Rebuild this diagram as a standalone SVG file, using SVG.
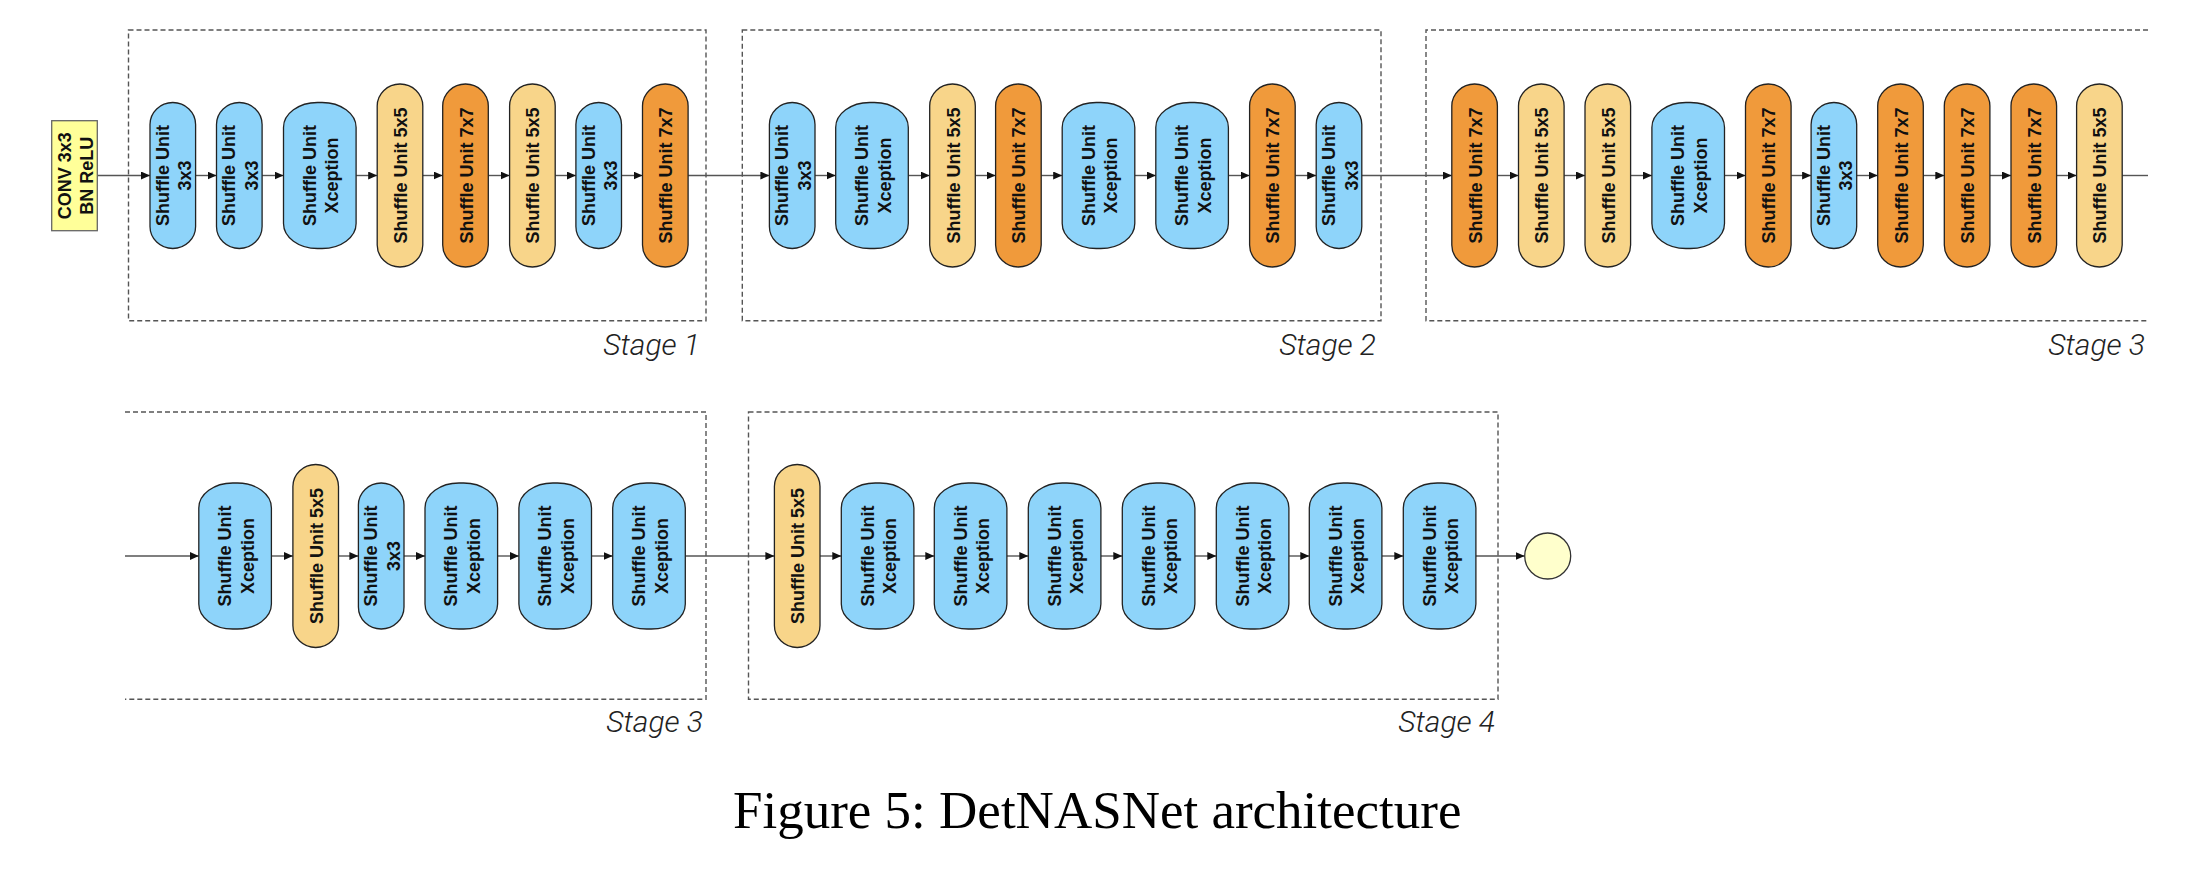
<svg xmlns="http://www.w3.org/2000/svg" width="2188" height="896" viewBox="0 0 2188 896">
<style>
.bg{fill:#ffffff}
.stage{fill:none;stroke:#555;stroke-width:1.4;stroke-dasharray:5 3}
.u{stroke:#222;stroke-width:1.3}
.b{fill:#8ed4fa}
.t{fill:#f8d58a}
.o{fill:#f09a3b}
.lbl{font-family:"Liberation Sans",Arial,sans-serif;font-weight:bold;font-size:18px;fill:#111;text-anchor:middle}
.stg{font-family:Roboto,"Open Sans","Liberation Sans",sans-serif;font-weight:300;font-style:italic;font-size:30px;fill:#222;text-anchor:end}
.cap{font-family:"Liberation Serif","Times New Roman",serif;font-size:53px;fill:#000}
.c{stroke:#555;stroke-width:1.4;fill:none}
</style>
<defs>
<marker id="ah" markerUnits="userSpaceOnUse" markerWidth="10" markerHeight="8" refX="9" refY="4" orient="auto">
<path d="M0,0 L9,4 L0,8 z" fill="#111"/>
</marker>
</defs>
<rect class="bg" x="0" y="0" width="2188" height="896"/>

<g id="stages">
<rect id="stage1" class="stage" x="128.5" y="30" width="577.5" height="290.7"/>
<rect id="stage2" class="stage" x="742.3" y="30" width="638.7" height="290.7"/>
<path id="stage3a" class="stage" d="M2148,30 H1426 V320.7 H2148"/>
<path id="stage3b" class="stage" d="M125,412 H706 V699.3 H125"/>
<rect id="stage4" class="stage" x="748.5" y="412" width="749.5" height="287.3"/>
<text class="stg" x="700" y="355">Stage 1</text>
<text class="stg" x="1376" y="355">Stage 2</text>
<text class="stg" x="2145" y="355">Stage 3</text>
<text class="stg" x="703" y="732">Stage 3</text>
<text class="stg" x="1495" y="732">Stage 4</text>
</g>

<g id="connectors">
<g marker-end="url(#ah)">
<line class="c" x1="97.3" y1="175.5" x2="150" y2="175.5"/>
<line class="c" x1="195.6" y1="175.5" x2="216.5" y2="175.5"/>
<line class="c" x1="262.1" y1="175.5" x2="283.5" y2="175.5"/>
<line class="c" x1="356.1" y1="175.5" x2="377.2" y2="175.5"/>
<line class="c" x1="422.8" y1="175.5" x2="442.7" y2="175.5"/>
<line class="c" x1="488.3" y1="175.5" x2="509.6" y2="175.5"/>
<line class="c" x1="555.2" y1="175.5" x2="575.9" y2="175.5"/>
<line class="c" x1="621.5" y1="175.5" x2="642.5" y2="175.5"/>
<line class="c" x1="688.1" y1="175.5" x2="769.4" y2="175.5"/>
<line class="c" x1="815" y1="175.5" x2="835.7" y2="175.5"/>
<line class="c" x1="908.3" y1="175.5" x2="929.7" y2="175.5"/>
<line class="c" x1="975.3" y1="175.5" x2="995.6" y2="175.5"/>
<line class="c" x1="1041.2" y1="175.5" x2="1062.2" y2="175.5"/>
<line class="c" x1="1134.8" y1="175.5" x2="1155.8" y2="175.5"/>
<line class="c" x1="1228.4" y1="175.5" x2="1249.6" y2="175.5"/>
<line class="c" x1="1295.2" y1="175.5" x2="1316.2" y2="175.5"/>
<line class="c" x1="1361.8" y1="175.5" x2="1451.8" y2="175.5"/>
<line class="c" x1="1497.4" y1="175.5" x2="1518.5" y2="175.5"/>
<line class="c" x1="1564.1" y1="175.5" x2="1585" y2="175.5"/>
<line class="c" x1="1630.6" y1="175.5" x2="1651.9" y2="175.5"/>
<line class="c" x1="1724.5" y1="175.5" x2="1745.5" y2="175.5"/>
<line class="c" x1="1791.1" y1="175.5" x2="1811.1" y2="175.5"/>
<line class="c" x1="1856.7" y1="175.5" x2="1877.7" y2="175.5"/>
<line class="c" x1="1923.3" y1="175.5" x2="1944.3" y2="175.5"/>
<line class="c" x1="1989.9" y1="175.5" x2="2011" y2="175.5"/>
<line class="c" x1="2056.6" y1="175.5" x2="2076.6" y2="175.5"/>
<line class="c" x1="125" y1="556" x2="198.8" y2="556"/>
<line class="c" x1="271.4" y1="556" x2="292.9" y2="556"/>
<line class="c" x1="338.5" y1="556" x2="358.4" y2="556"/>
<line class="c" x1="404" y1="556" x2="425" y2="556"/>
<line class="c" x1="497.6" y1="556" x2="518.9" y2="556"/>
<line class="c" x1="591.5" y1="556" x2="612.7" y2="556"/>
<line class="c" x1="685.3" y1="556" x2="774.4" y2="556"/>
<line class="c" x1="820" y1="556" x2="841.3" y2="556"/>
<line class="c" x1="913.9" y1="556" x2="934.3" y2="556"/>
<line class="c" x1="1006.9" y1="556" x2="1028.3" y2="556"/>
<line class="c" x1="1100.9" y1="556" x2="1122.3" y2="556"/>
<line class="c" x1="1194.9" y1="556" x2="1216.3" y2="556"/>
<line class="c" x1="1288.9" y1="556" x2="1309.3" y2="556"/>
<line class="c" x1="1381.9" y1="556" x2="1403.3" y2="556"/>
<line class="c" x1="1475.9" y1="556" x2="1524.7" y2="556"/>
</g>
<line class="c" x1="2122.2" y1="175.5" x2="2148" y2="175.5"/>
</g>

<g id="conv">
<rect x="51.7" y="120.7" width="45.6" height="110" fill="#ffff99" stroke="#666" stroke-width="1.3"/>
<text class="lbl" transform="translate(74.5,175.7) rotate(-90)"><tspan x="0" y="-4">CONV 3x3</tspan><tspan x="0" y="18.5">BN ReLU</tspan></text>
</g>

<!-- Row 1, Stage 1 -->
<g id="s1u1"><rect class="u b" x="150" y="102.5" width="45.6" height="146" rx="22.8" ry="22"/><text class="lbl" transform="translate(172.8,175.5) rotate(-90)"><tspan x="0" y="-4">Shuffle Unit</tspan><tspan x="0" y="18.5">3x3</tspan></text></g>
<g id="s1u2"><rect class="u b" x="216.5" y="102.5" width="45.6" height="146" rx="22.8" ry="22"/><text class="lbl" transform="translate(239.3,175.5) rotate(-90)"><tspan x="0" y="-4">Shuffle Unit</tspan><tspan x="0" y="18.5">3x3</tspan></text></g>
<g id="s1u3"><rect class="u b" x="283.5" y="102.5" width="72.6" height="146" rx="34" ry="25"/><text class="lbl" transform="translate(319.8,175.5) rotate(-90)"><tspan x="0" y="-4">Shuffle Unit</tspan><tspan x="0" y="18.5">Xception</tspan></text></g>
<g id="s1u4"><rect class="u t" x="377.2" y="84" width="45.6" height="183" rx="22.8" ry="22"/><text class="lbl" transform="translate(400,175.5) rotate(-90)" y="7">Shuffle Unit 5x5</text></g>
<g id="s1u5"><rect class="u o" x="442.7" y="84" width="45.6" height="183" rx="22.8" ry="22"/><text class="lbl" transform="translate(465.5,175.5) rotate(-90)" y="7">Shuffle Unit 7x7</text></g>
<g id="s1u6"><rect class="u t" x="509.6" y="84" width="45.6" height="183" rx="22.8" ry="22"/><text class="lbl" transform="translate(532.4,175.5) rotate(-90)" y="7">Shuffle Unit 5x5</text></g>
<g id="s1u7"><rect class="u b" x="575.9" y="102.5" width="45.6" height="146" rx="22.8" ry="22"/><text class="lbl" transform="translate(598.7,175.5) rotate(-90)"><tspan x="0" y="-4">Shuffle Unit</tspan><tspan x="0" y="18.5">3x3</tspan></text></g>
<g id="s1u8"><rect class="u o" x="642.5" y="84" width="45.6" height="183" rx="22.8" ry="22"/><text class="lbl" transform="translate(665.3,175.5) rotate(-90)" y="7">Shuffle Unit 7x7</text></g>

<!-- Row 1, Stage 2 -->
<g id="s2u1"><rect class="u b" x="769.4" y="102.5" width="45.6" height="146" rx="22.8" ry="22"/><text class="lbl" transform="translate(792.2,175.5) rotate(-90)"><tspan x="0" y="-4">Shuffle Unit</tspan><tspan x="0" y="18.5">3x3</tspan></text></g>
<g id="s2u2"><rect class="u b" x="835.7" y="102.5" width="72.6" height="146" rx="34" ry="25"/><text class="lbl" transform="translate(872,175.5) rotate(-90)"><tspan x="0" y="-4">Shuffle Unit</tspan><tspan x="0" y="18.5">Xception</tspan></text></g>
<g id="s2u3"><rect class="u t" x="929.7" y="84" width="45.6" height="183" rx="22.8" ry="22"/><text class="lbl" transform="translate(952.5,175.5) rotate(-90)" y="7">Shuffle Unit 5x5</text></g>
<g id="s2u4"><rect class="u o" x="995.6" y="84" width="45.6" height="183" rx="22.8" ry="22"/><text class="lbl" transform="translate(1018.4,175.5) rotate(-90)" y="7">Shuffle Unit 7x7</text></g>
<g id="s2u5"><rect class="u b" x="1062.2" y="102.5" width="72.6" height="146" rx="34" ry="25"/><text class="lbl" transform="translate(1098.5,175.5) rotate(-90)"><tspan x="0" y="-4">Shuffle Unit</tspan><tspan x="0" y="18.5">Xception</tspan></text></g>
<g id="s2u6"><rect class="u b" x="1155.8" y="102.5" width="72.6" height="146" rx="34" ry="25"/><text class="lbl" transform="translate(1192.1,175.5) rotate(-90)"><tspan x="0" y="-4">Shuffle Unit</tspan><tspan x="0" y="18.5">Xception</tspan></text></g>
<g id="s2u7"><rect class="u o" x="1249.6" y="84" width="45.6" height="183" rx="22.8" ry="22"/><text class="lbl" transform="translate(1272.4,175.5) rotate(-90)" y="7">Shuffle Unit 7x7</text></g>
<g id="s2u8"><rect class="u b" x="1316.2" y="102.5" width="45.6" height="146" rx="22.8" ry="22"/><text class="lbl" transform="translate(1339,175.5) rotate(-90)"><tspan x="0" y="-4">Shuffle Unit</tspan><tspan x="0" y="18.5">3x3</tspan></text></g>

<!-- Row 1, Stage 3 -->
<g id="s3u1"><rect class="u o" x="1451.8" y="84" width="45.6" height="183" rx="22.8" ry="22"/><text class="lbl" transform="translate(1474.6,175.5) rotate(-90)" y="7">Shuffle Unit 7x7</text></g>
<g id="s3u2"><rect class="u t" x="1518.5" y="84" width="45.6" height="183" rx="22.8" ry="22"/><text class="lbl" transform="translate(1541.3,175.5) rotate(-90)" y="7">Shuffle Unit 5x5</text></g>
<g id="s3u3"><rect class="u t" x="1585" y="84" width="45.6" height="183" rx="22.8" ry="22"/><text class="lbl" transform="translate(1607.8,175.5) rotate(-90)" y="7">Shuffle Unit 5x5</text></g>
<g id="s3u4"><rect class="u b" x="1651.9" y="102.5" width="72.6" height="146" rx="34" ry="25"/><text class="lbl" transform="translate(1688.2,175.5) rotate(-90)"><tspan x="0" y="-4">Shuffle Unit</tspan><tspan x="0" y="18.5">Xception</tspan></text></g>
<g id="s3u5"><rect class="u o" x="1745.5" y="84" width="45.6" height="183" rx="22.8" ry="22"/><text class="lbl" transform="translate(1768.3,175.5) rotate(-90)" y="7">Shuffle Unit 7x7</text></g>
<g id="s3u6"><rect class="u b" x="1811.1" y="102.5" width="45.6" height="146" rx="22.8" ry="22"/><text class="lbl" transform="translate(1833.9,175.5) rotate(-90)"><tspan x="0" y="-4">Shuffle Unit</tspan><tspan x="0" y="18.5">3x3</tspan></text></g>
<g id="s3u7"><rect class="u o" x="1877.7" y="84" width="45.6" height="183" rx="22.8" ry="22"/><text class="lbl" transform="translate(1900.5,175.5) rotate(-90)" y="7">Shuffle Unit 7x7</text></g>
<g id="s3u8"><rect class="u o" x="1944.3" y="84" width="45.6" height="183" rx="22.8" ry="22"/><text class="lbl" transform="translate(1967.1,175.5) rotate(-90)" y="7">Shuffle Unit 7x7</text></g>
<g id="s3u9"><rect class="u o" x="2011" y="84" width="45.6" height="183" rx="22.8" ry="22"/><text class="lbl" transform="translate(2033.8,175.5) rotate(-90)" y="7">Shuffle Unit 7x7</text></g>
<g id="s3u10"><rect class="u t" x="2076.6" y="84" width="45.6" height="183" rx="22.8" ry="22"/><text class="lbl" transform="translate(2099.4,175.5) rotate(-90)" y="7">Shuffle Unit 5x5</text></g>

<!-- Row 2, Stage 3 continued -->
<g id="s3u11"><rect class="u b" x="198.8" y="483" width="72.6" height="146" rx="34" ry="25"/><text class="lbl" transform="translate(235.1,556) rotate(-90)"><tspan x="0" y="-4">Shuffle Unit</tspan><tspan x="0" y="18.5">Xception</tspan></text></g>
<g id="s3u12"><rect class="u t" x="292.9" y="464.5" width="45.6" height="183" rx="22.8" ry="22"/><text class="lbl" transform="translate(315.7,556) rotate(-90)" y="7">Shuffle Unit 5x5</text></g>
<g id="s3u13"><rect class="u b" x="358.4" y="483" width="45.6" height="146" rx="22.8" ry="22"/><text class="lbl" transform="translate(381.2,556) rotate(-90)"><tspan x="0" y="-4">Shuffle Unit</tspan><tspan x="0" y="18.5">3x3</tspan></text></g>
<g id="s3u14"><rect class="u b" x="425" y="483" width="72.6" height="146" rx="34" ry="25"/><text class="lbl" transform="translate(461.3,556) rotate(-90)"><tspan x="0" y="-4">Shuffle Unit</tspan><tspan x="0" y="18.5">Xception</tspan></text></g>
<g id="s3u15"><rect class="u b" x="518.9" y="483" width="72.6" height="146" rx="34" ry="25"/><text class="lbl" transform="translate(555.2,556) rotate(-90)"><tspan x="0" y="-4">Shuffle Unit</tspan><tspan x="0" y="18.5">Xception</tspan></text></g>
<g id="s3u16"><rect class="u b" x="612.7" y="483" width="72.6" height="146" rx="34" ry="25"/><text class="lbl" transform="translate(649,556) rotate(-90)"><tspan x="0" y="-4">Shuffle Unit</tspan><tspan x="0" y="18.5">Xception</tspan></text></g>

<!-- Row 2, Stage 4 -->
<g id="s4u1"><rect class="u t" x="774.4" y="464.5" width="45.6" height="183" rx="22.8" ry="22"/><text class="lbl" transform="translate(797.2,556) rotate(-90)" y="7">Shuffle Unit 5x5</text></g>
<g id="s4u2"><rect class="u b" x="841.3" y="483" width="72.6" height="146" rx="34" ry="25"/><text class="lbl" transform="translate(877.6,556) rotate(-90)"><tspan x="0" y="-4">Shuffle Unit</tspan><tspan x="0" y="18.5">Xception</tspan></text></g>
<g id="s4u3"><rect class="u b" x="934.3" y="483" width="72.6" height="146" rx="34" ry="25"/><text class="lbl" transform="translate(970.6,556) rotate(-90)"><tspan x="0" y="-4">Shuffle Unit</tspan><tspan x="0" y="18.5">Xception</tspan></text></g>
<g id="s4u4"><rect class="u b" x="1028.3" y="483" width="72.6" height="146" rx="34" ry="25"/><text class="lbl" transform="translate(1064.6,556) rotate(-90)"><tspan x="0" y="-4">Shuffle Unit</tspan><tspan x="0" y="18.5">Xception</tspan></text></g>
<g id="s4u5"><rect class="u b" x="1122.3" y="483" width="72.6" height="146" rx="34" ry="25"/><text class="lbl" transform="translate(1158.6,556) rotate(-90)"><tspan x="0" y="-4">Shuffle Unit</tspan><tspan x="0" y="18.5">Xception</tspan></text></g>
<g id="s4u6"><rect class="u b" x="1216.3" y="483" width="72.6" height="146" rx="34" ry="25"/><text class="lbl" transform="translate(1252.6,556) rotate(-90)"><tspan x="0" y="-4">Shuffle Unit</tspan><tspan x="0" y="18.5">Xception</tspan></text></g>
<g id="s4u7"><rect class="u b" x="1309.3" y="483" width="72.6" height="146" rx="34" ry="25"/><text class="lbl" transform="translate(1345.6,556) rotate(-90)"><tspan x="0" y="-4">Shuffle Unit</tspan><tspan x="0" y="18.5">Xception</tspan></text></g>
<g id="s4u8"><rect class="u b" x="1403.3" y="483" width="72.6" height="146" rx="34" ry="25"/><text class="lbl" transform="translate(1439.6,556) rotate(-90)"><tspan x="0" y="-4">Shuffle Unit</tspan><tspan x="0" y="18.5">Xception</tspan></text></g>

<g id="output"><circle cx="1547.7" cy="556" r="23" fill="#ffffcc" stroke="#333" stroke-width="1.3"/></g>

<text class="cap" x="733" y="828">Figure 5: DetNASNet architecture</text>
</svg>
